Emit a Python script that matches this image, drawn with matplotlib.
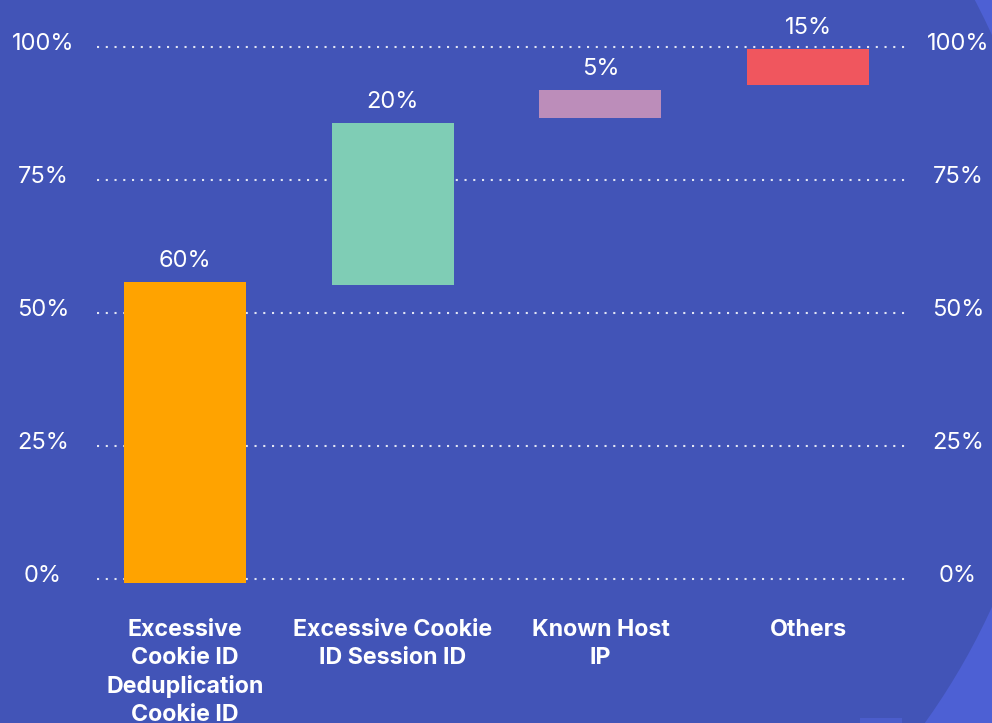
import matplotlib
matplotlib.use("Agg")
import matplotlib.pyplot as plt
from matplotlib.patches import Circle, Rectangle
from matplotlib.transforms import blended_transform_factory

# données
categories = ["Excessive\nCookie ID\nDeduplication\nCookie ID",
              "Excessive Cookie\nID Session ID",
              "Known Host\nIP",
              "Others"]
bar_start = [-0.75, 55.2, 86.7, 92.9]
bar_end = [55.8, 85.7, 91.9, 99.7]
value_labels = ["60%", "20%", "5%", "15%"]
colors = ["#FFA300", "#7FCDB5", "#BC8DBA", "#F0565E"]
yticks = [0, 25, 50, 75, 100]
ytick_labels = ["0%", "25%", "50%", "75%", "100%"]

BG_DARK = "#4254B7"
BG_LIGHT = "#4D60D4"
plt.rcParams["font.family"] = ["Inter", "DejaVu Sans"]

W, H = 992, 723
fig = plt.figure(figsize=(W / 100, H / 100), dpi=100, facecolor=BG_LIGHT)

# grand disque sombre en fond (coordonnées en pouces)
fig.add_artist(Circle((364 / 100, (H - 321) / 100), 690 / 100, transform=fig.dpi_scale_trans,
                      facecolor=BG_DARK, edgecolor="none", zorder=-2))
fig.add_artist(Rectangle((860 / 100, 0), 42 / 100, 5 / 100, transform=fig.dpi_scale_trans,
                         facecolor="#4B5DCB", edgecolor="none", zorder=-2))

ax = fig.add_axes([97 / W, 1 - 590 / H, 810 / W, 550 / H])
ax.set_facecolor("none")
ax.set_xlim(-0.424, 3.476)
ax.set_ylim(-2.07, 101.3)

x = list(range(len(categories)))
heights = [e - s for s, e in zip(bar_start, bar_end)]

for yv in yticks:
    ax.axhline(yv, color="white", lw=1.5, ls=(0, (1, 3.2)), alpha=0.85, zorder=1)

ax.bar(x, heights, bottom=bar_start, width=0.587, color=colors, zorder=2)

for xi, top, lab in zip(x, bar_end, value_labels):
    ax.annotate(lab, (xi, top), xytext=(0, 15), textcoords="offset points",
                ha="center", va="center", color="white", fontsize=17, fontweight="normal")

tr = blended_transform_factory(ax.transAxes, ax.transData)
for yv, lab in zip(yticks, ytick_labels):
    ax.text(-0.0667, yv + 0.6, lab, transform=tr, ha="center", va="center",
            color="white", fontsize=17, fontweight="normal")
    ax.text(1.063, yv + 0.6, lab, transform=tr, ha="center", va="center",
            color="white", fontsize=17, fontweight="normal")

trx = blended_transform_factory(ax.transData, ax.transAxes)
for xi, cat in zip(x, categories):
    ax.text(xi, -0.053, cat, transform=trx, ha="center", va="top", color="white",
            fontsize=16.7, fontweight="bold", linespacing=1.34)

ax.set_xticks([])
ax.set_yticks([])
for s in ax.spines.values():
    s.set_visible(False)

fig.savefig("out.png", dpi=100, facecolor=fig.get_facecolor())
